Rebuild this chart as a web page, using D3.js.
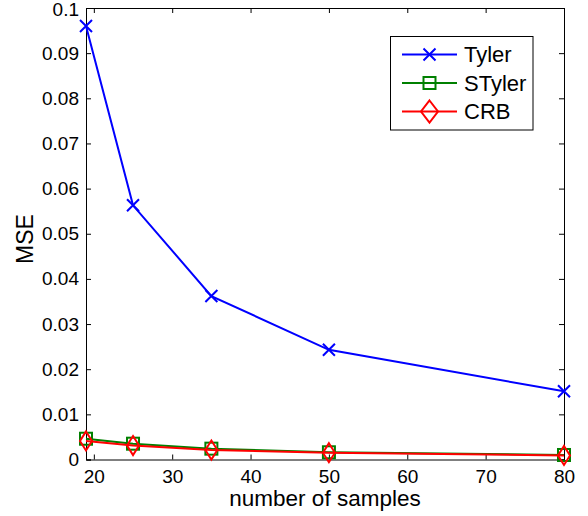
<!DOCTYPE html>
<html><head><meta charset="utf-8">
<script src="https://cdn.jsdelivr.net/npm/d3@7"></script>
<style>body{margin:0;background:#fff}svg{display:block;font-family:"Liberation Sans",Arial,sans-serif}</style>
</head><body>
<svg id="c" width="588" height="516"></svg>
<script>
const samples = [19, 25, 35, 50, 80];
const tyler = [0.0960, 0.0563, 0.0362, 0.0243, 0.0151];
const styler = [0.0046, 0.0035, 0.0024, 0.0016, 0.0010];
const crb = [0.0041, 0.0031, 0.0021, 0.0015, 0.0009];
const xTicks = [20, 30, 40, 50, 60, 70, 80];
const yTicks = [0, 0.01, 0.02, 0.03, 0.04, 0.05, 0.06, 0.07, 0.08, 0.09, 0.1];
const seriesNames = ["Tyler", "STyler", "CRB"];
const seriesColors = ["#0000ff", "#008000", "#ff0000"];
const seriesMarkers = ["x", "square", "diamond"];

const L = 86, R = 564, T = 8, B = 459.5;
const svg = d3.select("#c");
const x = d3.scaleLinear().domain([19, 80]).range([L, R]);
const y = d3.scaleLinear().domain([0, 0.1]).range([B, T]);

const g = svg.append("g");
const tickLen = 5;
const ax = g.append("g").attr("transform", `translate(0,${B})`)
  .call(d3.axisBottom(x).tickValues(xTicks).tickSize(-tickLen).tickPadding(10).tickFormat(d3.format("d")));
const axT = g.append("g").attr("transform", `translate(0,${T})`)
  .call(d3.axisTop(x).tickValues(xTicks).tickSize(-tickLen).tickFormat(""));
const ay = g.append("g").attr("transform", `translate(${L},0)`)
  .call(d3.axisLeft(y).tickValues(yTicks).tickSize(-tickLen).tickPadding(7).tickFormat(d => d === 0 ? "0" : String(+d.toFixed(2))));
const ayR = g.append("g").attr("transform", `translate(${R},0)`)
  .call(d3.axisRight(y).tickValues(yTicks).tickSize(-tickLen).tickFormat(""));
[ax, axT, ay, ayR].forEach(a => {
  a.select(".domain").attr("stroke", "#000").attr("stroke-width", 1);
  a.selectAll(".tick line").attr("stroke", "#000");
  a.selectAll("text").attr("font-size", 19).attr("fill", "#000").attr("font-family", '"Liberation Sans",Arial,sans-serif');
});
ay.selectAll(".tick text").filter(d => d === 0.1).attr("dy", "0.42em");

function marker(sel, type, color, cx, cy, s) {
  if (type === "x") {
    sel.append("path").attr("d", `M${cx-6},${cy-6}L${cx+6},${cy+6}M${cx-6},${cy+6}L${cx+6},${cy-6}`)
      .attr("stroke", color).attr("stroke-width", 2).attr("fill", "none");
  } else if (type === "square") {
    sel.append("rect").attr("x", cx - 6).attr("y", cy - 6).attr("width", 12).attr("height", 12)
      .attr("stroke", color).attr("stroke-width", 2).attr("fill", "none");
  } else {
    const w = s ? 8.5 : 6, h = s ? 11 : 9.5;
    sel.append("path").attr("d", `M${cx},${cy-h}L${cx+w},${cy}L${cx},${cy+h}L${cx-w},${cy}Z`)
      .attr("stroke", color).attr("stroke-width", 2).attr("fill", "none");
  }
}

const all = [tyler, styler, crb];
const line = d3.line().x((d, i) => x(samples[i])).y(d => y(d));
all.forEach((vals, k) => {
  const sg = svg.append("g");
  sg.append("path").datum(vals).attr("d", line).attr("fill", "none")
    .attr("stroke", seriesColors[k]).attr("stroke-width", 2);
  vals.forEach((v, i) => marker(sg, seriesMarkers[k], seriesColors[k], x(samples[i]), y(v)));
});

svg.append("text").attr("x", 325).attr("y", 506).attr("text-anchor", "middle")
  .attr("font-size", 22.5).text("number of samples");
svg.append("text").attr("transform", `translate(33,239) rotate(-90)`).attr("text-anchor", "middle")
  .attr("font-size", 23).text("MSE");

const lg = svg.append("g");
lg.append("rect").attr("x", 390.5).attr("y", 36.5).attr("width", 142.5).attr("height", 93.5)
  .attr("fill", "#fff").attr("stroke", "#000").attr("stroke-width", 1);
const ly = [54.5, 83, 111.5];
seriesNames.forEach((n, k) => {
  lg.append("line").attr("x1", 402).attr("x2", 457).attr("y1", ly[k]).attr("y2", ly[k])
    .attr("stroke", seriesColors[k]).attr("stroke-width", 2);
  marker(lg, seriesMarkers[k], seriesColors[k], 429.5, ly[k], true);
  lg.append("text").attr("x", 464).attr("y", ly[k]).attr("dy", "0.36em").attr("font-size", 22).text(n);
});
</script>
</body></html>
